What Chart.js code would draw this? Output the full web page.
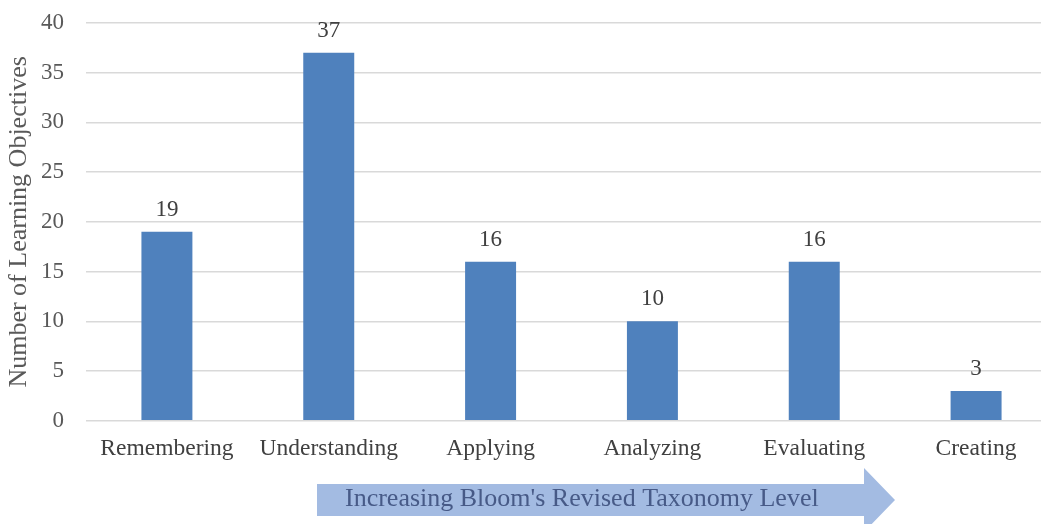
<!DOCTYPE html>
<html>
<head>
<meta charset="utf-8">
<script src="https://cdn.jsdelivr.net/npm/chart.js@4"></script>
<style>
  html, body { margin: 0; padding: 0; overflow: hidden; background: #fff; }
  #wrap { width: 1057px; height: 524px; position: relative; }
</style>
</head>
<body>
<div id="wrap"><canvas id="bloom-chart"></canvas></div>
<script>
// Bloom levels and counts
const levels = ["Remembering", "Understanding", "Applying", "Analyzing", "Evaluating", "Creating"];
const counts = [19, 37, 16, 10, 16, 3];
const yTicks = [0, 5, 10, 15, 20, 25, 30, 35, 40];
const arrowText = "Increasing Bloom's Revised Taxonomy Level";

const serif = "'Liberation Serif', 'Times New Roman', serif";

// value labels above the bars
const valueLabels = {
  id: 'valueLabels',
  afterDatasetsDraw(chart) {
    const ctx = chart.ctx;
    const meta = chart.getDatasetMeta(0);
    ctx.save();
    ctx.font = '23px ' + serif;
    ctx.fillStyle = '#404040';
    ctx.textAlign = 'center';
    ctx.textBaseline = 'alphabetic';
    meta.data.forEach(function(bar, i) {
      ctx.fillText(counts[i], bar.x, bar.y - 16);
    });
    ctx.restore();
  }
};

// the light blue arrow under the axis
const levelArrow = {
  id: 'levelArrow',
  afterDraw(chart) {
    const ctx = chart.ctx;
    const x0 = 317, x1 = 864, tip = 895;
    const cy = 500, body = 16, head = 32;
    ctx.save();
    ctx.fillStyle = '#a3bbe2';
    ctx.beginPath();
    ctx.moveTo(x0, cy - body);
    ctx.lineTo(x1, cy - body);
    ctx.lineTo(x1, cy - head);
    ctx.lineTo(tip, cy);
    ctx.lineTo(x1, cy + head);
    ctx.lineTo(x1, cy + body);
    ctx.lineTo(x0, cy + body);
    ctx.closePath();
    ctx.fill();
    ctx.font = '26px ' + serif;
    ctx.fillStyle = '#475a87';
    ctx.textAlign = 'left';
    ctx.textBaseline = 'middle';
    ctx.fillText(arrowText, 345, cy - 1);
    ctx.restore();
  }
};

const ctx = document.getElementById('bloom-chart').getContext('2d');
new Chart(ctx, {
  type: 'bar',
  data: {
    labels: levels,
    datasets: [{
      label: 'Learning Objectives',
      data: counts,
      backgroundColor: '#4f81bd',
      barPercentage: 0.315,
      categoryPercentage: 1
    }]
  },
  options: {
    responsive: true,
    maintainAspectRatio: false,
    animation: false,
    layout: {
      padding: { top: 23, right: 0, bottom: 47, left: 0 }
    },
    scales: {
      x: {
        grid: { display: false, drawTicks: false },
        border: { display: false },
        ticks: {
          color: '#404040',
          font: { family: serif, size: 23.5 },
          padding: 14,
          maxRotation: 0
        }
      },
      y: {
        min: 0,
        max: 40,
        afterFit: function(scale) {
          scale.width = 86;
          scale.paddingTop = 0;
          scale.paddingBottom = 0;
        },
        afterBuildTicks: function(scale) {
          scale.ticks = yTicks.map(function(v) { return { value: v }; });
        },
        grid: { color: '#d9d9d9', lineWidth: 1.5, drawTicks: false },
        border: { display: false },
        ticks: {
          color: '#595959',
          font: { family: serif, size: 23 },
          padding: 22
        },
        title: {
          display: true,
          text: 'Number of Learning Objectives',
          color: '#595959',
          font: { family: serif, size: 26 },
          padding: { top: 4, bottom: 0 }
        }
      }
    },
    plugins: {
      legend: { display: false },
      tooltip: { enabled: false }
    }
  },
  plugins: [valueLabels, levelArrow]
});
</script>
</body>
</html>
